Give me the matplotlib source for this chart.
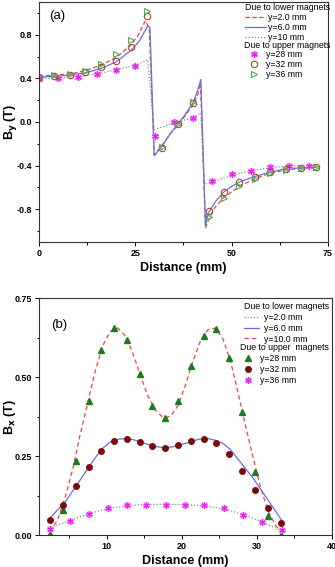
import matplotlib.pyplot as plt
import numpy as np
from matplotlib.ticker import MultipleLocator, FormatStrFormatter
from matplotlib.legend_handler import HandlerTuple

plt.rcParams["font.family"] = ["Liberation Sans", "DejaVu Sans"]

# ---- panel (a): B_y vs distance ----
a_x_y2 = [0, 4, 8, 12, 16, 20, 24, 26, 27.6, 28.6, 29.9, 32, 34, 36, 38, 40, 41.2, 41.9,
          43.2, 44, 45.5, 48, 52, 56, 60, 64, 68, 72]
a_y2 = [0.42, 0.43, 0.44, 0.47, 0.52, 0.59, 0.71, 0.81, 0.93, 0.86, -0.30, -0.21, -0.11, -0.03,
        0.06, 0.16, 0.25, 0.36, -0.97, -0.90, -0.79, -0.69, -0.59, -0.52, -0.47, -0.44, -0.425, -0.415]

a_x_y6 = [0, 4, 8, 12, 16, 20, 24, 26, 28.2, 28.8, 29.9, 32, 34, 36, 38, 40, 41.2, 42.0,
          43.2, 44, 46, 48, 50, 52, 56, 60, 64, 68, 72]
a_y6 = [0.41, 0.42, 0.43, 0.45, 0.49, 0.55, 0.66, 0.74, 0.88, 0.87, -0.31, -0.22, -0.11, -0.02,
        0.07, 0.18, 0.29, 0.39, -0.95, -0.83, -0.72, -0.64, -0.59, -0.55, -0.50, -0.46, -0.43, -0.42, -0.415]

a_x_y10 = [0, 5, 10, 15, 20, 25, 28.2, 29.9, 35, 40, 42.0, 42.9, 45, 50, 55, 60, 65, 70, 72]
a_y10 = [0.40, 0.405, 0.415, 0.44, 0.48, 0.52, 0.57, -0.07, -0.01, 0.04, 0.08, -0.57, -0.55,
         -0.49, -0.445, -0.42, -0.405, -0.40, -0.40]

a_xm = [0, 4, 8, 12, 16, 20, 24, 28, 32, 36, 40, 44, 48, 52, 56, 60, 64, 68, 72]
a_y32 = [0.41, 0.42, 0.43, 0.46, 0.50, 0.56, 0.685, 0.97, -0.24, -0.02, 0.175, -0.82, -0.64,
         -0.55, -0.50, -0.46, -0.43, -0.42, -0.415]
a_y36 = [0.42, 0.43, 0.44, 0.47, 0.53, 0.62, 0.75, 1.02, -0.23, -0.02, 0.18, -0.87, -0.70,
         -0.59, -0.52, -0.47, -0.44, -0.42, -0.415]
a_xs = [0, 5, 10, 15, 20, 25, 30, 35, 40, 45, 50, 55, 60, 65, 70]
a_y28 = [0.39, 0.40, 0.41, 0.44, 0.48, 0.51, -0.13, 0.0, 0.04, -0.54, -0.48, -0.445, -0.415,
         -0.40, -0.40]

# ---- panel (b): B_x vs distance ----
b_xl = [2.5, 3.5, 4.5, 5.5, 6.5, 7.5, 8.5, 9.5, 10.5, 11.5, 12.5, 13.5, 14.5, 15.5, 16.5,
        17.5, 18.5, 19.5, 20.5, 21.5, 22.5, 23.5, 24.5, 25.5, 26.5, 27.5, 28.5, 29.5, 30.5,
        31.5, 32.5, 33.5]
b_y10 = [0.01, 0.05, 0.12, 0.21, 0.32, 0.42, 0.52, 0.60, 0.645, 0.655, 0.63, 0.575, 0.505,
         0.44, 0.395, 0.372, 0.375, 0.41, 0.475, 0.55, 0.615, 0.65, 0.655, 0.62, 0.55, 0.45,
         0.345, 0.245, 0.15, 0.075, 0.03, 0.005]
b_y6 = [0.055, 0.08, 0.105, 0.14, 0.175, 0.21, 0.245, 0.275, 0.295, 0.303, 0.305, 0.302,
        0.295, 0.287, 0.28, 0.277, 0.278, 0.283, 0.29, 0.298, 0.304, 0.305, 0.30, 0.29, 0.27,
        0.24, 0.21, 0.18, 0.145, 0.11, 0.075, 0.04]
b_x2 = [2.5, 4.5, 6.5, 8.5, 10.5, 12.5, 14.5, 16.5, 18.5, 20.5, 22.5, 24.5, 26.5, 28.5,
        30.5, 32.5, 33.5]
b_y2 = [0.025, 0.04, 0.058, 0.073, 0.085, 0.092, 0.096, 0.097, 0.097, 0.096, 0.093, 0.087,
        0.077, 0.062, 0.043, 0.022, 0.012]

b_xm = [2.5, 4.2, 5.9, 7.6, 9.3, 11.0, 12.7, 14.4, 16.1, 17.8, 19.5, 21.2, 22.9, 24.6, 26.3,
        28.0, 29.8, 31.5, 33.2]
b_y28 = [0.003, 0.08, 0.234, 0.425, 0.586, 0.656, 0.618, 0.51, 0.408, 0.371, 0.423, 0.534,
         0.631, 0.651, 0.56, 0.389, 0.198, 0.059, 0.0]
b_y32 = [0.048, 0.096, 0.155, 0.215, 0.267, 0.297, 0.305, 0.294, 0.282, 0.276, 0.284, 0.297,
         0.304, 0.292, 0.257, 0.204, 0.143, 0.085, 0.038]
b_xs = [2.5, 5.1, 7.6, 10.2, 12.75, 15.3, 17.9, 20.4, 23.0, 25.6, 28.2, 30.7, 33.3]
b_y36 = [0.019, 0.043, 0.066, 0.084, 0.0945, 0.0945, 0.0945, 0.0945, 0.094, 0.084, 0.063,
         0.040, 0.016]

RED = "#e8474a"
BLUE = "#6c6ce0"
GRAY = "#8a8a8a"
MAG = "#ee22ee"
MAG_FILL = "#ffb3ff"


def star(ax, x, y, ms):
    h1, = ax.plot(x, y, ls="none", marker="s", ms=ms, mfc=MAG_FILL, mec="none")
    h2, = ax.plot(x, y, ls="none", marker=(6, 2, 0), ms=ms + 0.8, color=MAG, mew=0.9)
    return (h1, h2)


def style(ax):
    for s in ax.spines.values():
        s.set_linewidth(0.8)
        s.set_color("#333333")
    ax.tick_params(which="both", direction="out", width=0.7, labelsize=6.5, pad=2)
    ax.tick_params(which="major", length=3)
    ax.tick_params(which="minor", length=1.8)
    for lab in ax.get_xticklabels() + ax.get_yticklabels():
        lab.set_fontweight("bold")


fig = plt.figure(figsize=(3.35, 5.67), dpi=100)

# panel (a)
ax1 = fig.add_axes([0.1164, 0.5732, 0.8627, 0.4233])
l1, = ax1.plot(a_x_y2, a_y2, color=RED, ls=(0, (3.5, 2)), lw=0.9)
l2, = ax1.plot(a_x_y6, a_y6, color=BLUE, ls="-", lw=0.9)
l3, = ax1.plot(a_x_y10, a_y10, color=GRAY, ls=(0, (1, 1.5)), lw=0.9)
s1 = star(ax1, a_xs, a_y28, 4.0)
c1, = ax1.plot(a_xm, a_y32, ls="none", marker="o", ms=4.6, mfc="none", mec="#a04a2a", mew=0.8)
t1, = ax1.plot(a_xm, a_y36, ls="none", marker=">", ms=4.6, mfc="none", mec="#4caa4c", mew=0.8)

ax1.set_xlim(0, 75)
ax1.set_ylim(-1.1, 1.1)
ax1.xaxis.set_major_locator(MultipleLocator(25))
ax1.xaxis.set_minor_locator(MultipleLocator(12.5))
ax1.yaxis.set_major_locator(MultipleLocator(0.4))
ax1.yaxis.set_minor_locator(MultipleLocator(0.2))
ax1.yaxis.set_major_formatter(FormatStrFormatter("%.1f"))
style(ax1)
ax1.set_xlabel("Distance (mm)", fontsize=9, fontweight="bold", labelpad=3)
ax1.set_ylabel("B$_\\mathbf{y}$ (T)", fontsize=9, fontweight="bold", va="center")
ax1.yaxis.set_label_coords(-0.1, 0.5)
ax1.text(0.035, 0.94, "(a)", transform=ax1.transAxes, fontsize=9.5, va="center")

tuple_map = {tuple: HandlerTuple(ndivide=1, pad=0)}

leg_a1 = ax1.legend([l1, l2, l3], ["y=2.0 mm", "y=6.0 mm", "y=10 mm"],
                    title="Due to lower magnets", alignment="left", loc="upper right",
                    bbox_to_anchor=(1.03, 1.02), fontsize=6.3, title_fontsize=6.3,
                    frameon=False, handlelength=2.3, handletextpad=0.25, labelspacing=0.1,
                    borderpad=0.2)
ax1.add_artist(leg_a1)
ax1.legend([s1, c1, t1], ["y=28 mm", "y=32 mm", "y=36 mm"], handler_map=tuple_map,
           title="Due to upper magnets", alignment="left", loc="upper right",
           bbox_to_anchor=(1.03, 0.865), fontsize=6.3, title_fontsize=6.3,
           frameon=False, handlelength=2.3, handletextpad=0.25, labelspacing=0.1,
           borderpad=0.2, numpoints=1)

# panel (b)
ax2 = fig.add_axes([0.1164, 0.0564, 0.8746, 0.418])
m1, = ax2.plot(b_x2, b_y2, color=GRAY, ls=(0, (1, 1.5)), lw=0.9)
m2, = ax2.plot(b_xl, b_y6, color=BLUE, ls="-", lw=0.9)
m3, = ax2.plot(b_xl, b_y10, color=RED, ls=(0, (3.5, 2.5)), lw=0.9)
g1, = ax2.plot(b_xm, b_y28, ls="none", marker="^", ms=4.2, color="#1d7a1d")
r1, = ax2.plot(b_xm, b_y32, ls="none", marker="o", ms=4.0, color="#7a0c0c")
s2 = star(ax2, b_xs, b_y36, 3.8)

ax2.set_xlim(1, 40)
ax2.set_ylim(0, 0.75)
ax2.xaxis.set_major_locator(MultipleLocator(10))
ax2.xaxis.set_minor_locator(MultipleLocator(5))
ax2.yaxis.set_major_locator(MultipleLocator(0.25))
ax2.yaxis.set_minor_locator(MultipleLocator(0.125))
ax2.yaxis.set_major_formatter(FormatStrFormatter("%.2f"))
style(ax2)
ax2.set_xlabel("Distance (mm)", fontsize=9, fontweight="bold", labelpad=3)
ax2.set_ylabel("B$_\\mathbf{x}$ (T)", fontsize=9, fontweight="bold", va="center")
ax2.yaxis.set_label_coords(-0.1, 0.5)
ax2.text(0.04, 0.886, "(b)", transform=ax2.transAxes, fontsize=9.5, va="center")

leg_b1 = ax2.legend([m1, m2, m3], ["y=2.0 mm", "y=6.0 mm", "y=10.0 mm"],
                    title="Due to lower magnets", alignment="left", loc="upper right",
                    bbox_to_anchor=(1.01, 1.01), fontsize=6.3, title_fontsize=6.3,
                    frameon=False, handlelength=1.8, handletextpad=0.5, labelspacing=0.22,
                    borderpad=0.2)
ax2.add_artist(leg_b1)
ax2.legend([g1, r1, s2], ["y=28 mm", "y=32 mm", "y=36 mm"], handler_map=tuple_map,
           title="Due to upper  magnets", alignment="left", loc="upper right",
           bbox_to_anchor=(1.01, 0.835), fontsize=6.3, title_fontsize=6.3,
           frameon=False, handlelength=1.8, handletextpad=0.5, labelspacing=0.22,
           borderpad=0.2, numpoints=1)

fig.savefig("out.png", dpi=100)
